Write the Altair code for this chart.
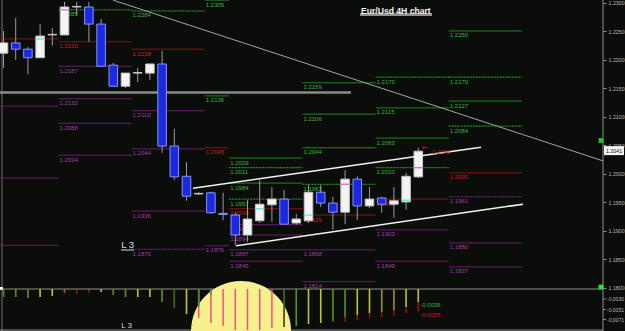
import altair as alt
import pandas as pd

FONT = "Liberation Sans"

# ---------------- candles (4H EUR/USD) ----------------
c_open = [1.2212, 1.2230, 1.2219, 1.2204, 1.2244, 1.2244, 1.2293, 1.2293, 1.2263, 1.2191,
          1.2154, 1.2177, 1.2177, 1.2193, 1.2049, 1.1996, 1.1965, 1.1967, 1.1931, 1.1928,
          1.1893, 1.1918, 1.1946, 1.1956, 1.1914, 1.1918, 1.1968, 1.1949, 1.1933, 1.1991,
          1.1944, 1.1958, 1.1947, 1.1951, 1.1995]
c_high = [1.2251, 1.2274, 1.2223, 1.2263, 1.2256, 1.2302, 1.2302, 1.2302, 1.2272, 1.2195,
          1.2177, 1.2186, 1.2193, 1.2216, 1.2079, 1.2021, 1.1968, 1.1969, 1.1967, 1.1933,
          1.1954, 1.1989, 1.1977, 1.1972, 1.1930, 1.1981, 1.1981, 1.1960, 1.2007, 1.1996,
          1.1977, 1.1960, 1.1977, 1.2002, 1.2046]
c_low = [1.2186, 1.2200, 1.2175, 1.2204, 1.2225, 1.2244, 1.2279, 1.2232, 1.2188, 1.2153,
         1.2151, 1.2161, 1.2165, 1.2037, 1.1989, 1.1953, 1.1963, 1.1930, 1.1919, 1.1875,
         1.1881, 1.1914, 1.1916, 1.1911, 1.1911, 1.1914, 1.1942, 1.1902, 1.1912, 1.1919,
         1.1940, 1.1932, 1.1923, 1.1937, 1.1993]
c_close = [1.2230, 1.2219, 1.2204, 1.2242, 1.2245, 1.2293, 1.2294, 1.2263, 1.2189, 1.2154,
           1.2177, 1.2178, 1.2193, 1.2049, 1.1995, 1.1961, 1.1966, 1.1932, 1.1929, 1.1893,
           1.1921, 1.1947, 1.1956, 1.1912, 1.1921, 1.1968, 1.1949, 1.1933, 1.1991, 1.1944,
           1.1956, 1.1947, 1.1953, 1.1996, 1.2040]

# ---------------- pivot periods ----------------
seg_names = ["A", "B", "C", "D", "E", "F", "G", "H"]
seg_start = [-0.5, 4.5, 10.5, 16.5, 18.5, 24.5, 30.5, 36.5]
seg_end = [4.5, 10.5, 16.5, 18.5, 24.5, 30.5, 36.5, 42.5]

# ---------------- pivot levels ----------------
lv_seg = ["A", "A", "A", "A",
          "B", "B", "B", "B", "B", "B",
          "C", "C", "C", "C", "C", "C",
          "D", "D", "D", "D",
          "E", "E", "E", "E", "E", "E", "E", "E", "E",
          "F", "F", "F", "F", "F", "F", "F",
          "G", "G", "G", "G", "G", "G", "G",
          "H", "H", "H", "H", "H", "H", "H", "H"]
lv_price = [1.2237, 1.2119, 1.1993, 1.1875,
            1.2288, 1.2232, 1.2189, 1.2132, 1.2089, 1.2033,
            1.2286, 1.2219, 1.2111, 1.2044, 1.1935, 1.1868,
            1.2305, 1.2137, 1.2046, 1.1874,
            1.2028, 1.2011, 1.1984, 1.1956, 1.1939, 1.1911, 1.1893, 1.1867, 1.1847,
            1.2160, 1.2105, 1.2046, 1.1982, 1.1928, 1.1867, 1.1811,
            1.2170, 1.2116, 1.2063, 1.2011, 1.1956, 1.1902, 1.1847,
            1.2251, 1.2170, 1.2128, 1.2084, 1.2002, 1.1960, 1.1879, 1.1837]
lv_kind = ["P", "S", "S", "S",
           "R", "P", "S", "S", "S", "S",
           "R", "P", "S", "S", "S", "S",
           "R", "R", "P", "S",
           "R", "R", "R", "R", "P", "S", "S", "S", "S",
           "R", "R", "R", "R", "P", "S", "S",
           "R", "R", "R", "R", "P", "S", "S",
           "R", "R", "R", "R", "P", "S", "S", "S"]
lv_style = ["solid", "solid", "solid", "solid",
            "dot", "solid", "solid", "solid", "solid", "solid",
            "dot", "solid", "solid", "solid", "solid", "dot",
            "solid", "solid", "solid", "solid",
            "solid", "dot", "solid", "dot", "solid", "solid", "solid", "solid", "solid",
            "solid", "solid", "solid", "dot", "solid", "solid", "solid",
            "dot", "solid", "solid", "dot", "solid", "solid", "solid",
            "solid", "dot", "solid", "dot", "solid", "dot", "solid", "solid"]
lv_label = ["", "", "", "",
            "1.2285", "1.2230", "1.2187", "1.2132", "1.2088", "1.2034",
            "1.2284", "1.2218", "1.2110", "1.2044", "1.1936", "1.1870",
            "1.2305", "1.2136", "1.2045", "1.1876",
            "1.2029", "1.2011", "1.1984", "1.1957", "1.1939", "1.1912", "1.1894", "1.1867", "1.1845",
            "1.2159", "1.2106", "1.2044", "1.1983", "1.1929", "1.1868", "1.1814",
            "1.2170", "1.2115", "1.2063", "1.2010", "1.1955", "1.1903", "1.1849",
            "1.2250", "1.2170", "1.2127", "1.2084", "1.2003", "1.1961", "1.1880", "1.1837"]

# level lines showing through white candle bodies (inverted colour)
inv_idx = [3, 5, 21, 25, 28, 33, 34]
inv_price = [1.2237, 1.2288, 1.1939, 1.1928, 1.1982, 1.1954, 1.2011]
inv_kind = ["c", "m", "c", "c", "m", "c", "m"]

# drawn lines: [x0, x1], [p0, p1]
trend_x = [8.98, 49.14]
trend_p = [1.2305, 1.2023]
chan_x0 = [15.53, 19.06]
chan_x1 = [39.14, 42.58]
chan_p0 = [1.1975, 1.1874]
chan_p1 = [1.2047, 1.1947]
hline_x = [-0.3, 28.48]
hline_p = 1.2143
cur_price = 1.2041
high_mark_idx = 34
high_mark_price = 1.2046
l3_idx = 9.65
l3_price = 1.1870

price_ticks = [1.1800, 1.1850, 1.1900, 1.1950, 1.2000, 1.2050,
               1.2100, 1.2150, 1.2200, 1.2250, 1.2300]

# ---------------- oscillator ----------------
osc_main = [-0.0026, -0.0026, -0.0028, -0.0026, -0.0024, -0.0016, -0.0012, -0.0012, -0.0016, -0.0022,
            -0.0026, -0.0026, -0.0026, -0.0036, -0.0048, -0.0060, -0.0046, -0.0022, -0.0010, -0.0010,
            -0.0010, -0.0010, -0.0010, -0.0086, -0.0084, -0.0080, -0.0078, -0.0074, -0.0066, -0.0062,
            -0.0058, -0.0056, -0.0052, -0.0046, -0.0036]
osc_sig = [-0.0026, -0.0026, -0.0028, -0.0026, -0.0024, -0.0020, -0.0020, -0.0018, -0.0016, -0.0022,
           -0.0026, -0.0026, -0.0026, -0.0036, -0.0048, -0.0060, -0.0068, -0.0078, -0.0084, -0.0092,
           -0.0092, -0.0092, -0.0088, -0.0086, -0.0084, -0.0080, -0.0078, -0.0076, -0.0076, -0.0072,
           -0.0068, -0.0066, -0.0064, -0.0058, -0.0055]
osc_main_col = ["g", "g", "g", "l", "l", "g", "g", "g", "l", "g",
                "g", "l", "l", "g", "d", "l", "g", "g", "g", "g",
                "g", "g", "g", "d", "g", "l", "l", "g", "g", "l",
                "l", "o", "o", "l", "l"]
osc_sig_col = ["r"] * 16 + ["p"] * 7 + ["r"] * 12
osc_top = -0.0010
osc_ticks = [-0.0030, -0.0051, -0.0071]
blob_idx = 19.47
blob_val = -0.0094

# ---------------- styling maps ----------------
line_col = {"R": "#1b861b", "P": "#8c1212", "S": "#6a1e6c"}
dot_col = {"R": "#2fae2f", "P": "#a01818", "S": "#82288a"}
lab_col = {"R": "#3ab53a", "P": "#c42222", "S": "#a23ea4"}
inv_col = {"c": "#40e8e8", "m": "#f050d8"}
main_hex = {"g": "#3e9e1e", "l": "#a6d62c", "d": "#2e7414", "o": "#8a9632"}
sig_hex = {"r": "#9c1010", "p": "#f2507e"}

# ---------------- frames ----------------
idx = list(range(len(c_open)))
candles = pd.DataFrame({"i": idx, "o": c_open, "h": c_high, "l": c_low, "c": c_close})

segx0 = dict(zip(seg_names, seg_start))
segx1 = dict(zip(seg_names, seg_end))
lv = pd.DataFrame({"seg": lv_seg, "price": lv_price, "kind": lv_kind,
                   "style": lv_style, "label": lv_label})
lv["x0"] = lv["seg"].map(segx0)
lv["x1"] = lv["seg"].map(segx1)
lv["lc"] = [(dot_col if s == "dot" else line_col)[k] for k, s in zip(lv["kind"], lv["style"])]
lv["tc"] = lv["kind"].map(lab_col)

inv = pd.DataFrame({"i": inv_idx, "p": inv_price, "k": [inv_col[k] for k in inv_kind]})
trend = pd.DataFrame({"x0": [trend_x[0]], "x1": [trend_x[1]], "p0": [trend_p[0]], "p1": [trend_p[1]]})
chan = pd.DataFrame({"x0": chan_x0, "x1": chan_x1, "p0": chan_p0, "p1": chan_p1})
hline = pd.DataFrame({"x0": [hline_x[0]], "x1": [hline_x[1]], "p": [hline_p]})
cur = pd.DataFrame({"p": [cur_price], "t": [f"{cur_price:.4f}"]})
hm = pd.DataFrame({"i": [high_mark_idx], "p": [high_mark_price], "t": [f"{high_mark_price:.4f}"]})
l3 = pd.DataFrame({"i": [l3_idx], "p": [l3_price], "t": ["L 3"]})

osc = pd.DataFrame({"i": idx, "main": osc_main, "sig": osc_sig,
                    "mc": [main_hex[k] for k in osc_main_col],
                    "sc": [sig_hex[k] for k in osc_sig_col]})
osc["top"] = osc_top
osc_last = pd.DataFrame({"i": [idx[-1], idx[-1]], "v": [osc_main[-1], osc_sig[-1]],
                         "t": [f"{osc_main[-1]:.4f}", f"{osc_sig[-1]:.4f}"],
                         "c": ["#3ab53a", "#c42222"]})
osc_tk = pd.DataFrame({"v": osc_ticks, "t": [f"{v:.4f}" for v in osc_ticks]})
blob = pd.DataFrame({"x": [blob_idx], "v": [blob_val]})
one = pd.DataFrame({"a": [0]})

# ---------------- scales ----------------
x_sc = alt.Scale(domain=[-0.287, 49.14], nice=False, zero=False)
p_sc = alt.Scale(domain=[1.172456, 1.230526], nice=False, zero=False)
o_sc = alt.Scale(domain=[-0.0094, 0.0568], nice=False, zero=False)
p_axis = alt.Axis(orient="right", values=price_ticks, format=".4f", labelFontSize=5.3,
                  labelFont=FONT, labelColor="#b9b9b9", tickColor="#8e8e8e", tickSize=3,
                  labelPadding=2, domain=False, grid=False, title=None, labelOverlap=False)


def X(f):
    return alt.X(f, type="quantitative", scale=x_sc, axis=None)


def PY(f):
    return alt.Y(f, type="quantitative", scale=p_sc, axis=p_axis)


def OY(f):
    return alt.Y(f, type="quantitative", scale=o_sc, axis=None)


# ---------------- price panel ----------------
frame = [
    alt.Chart(one).mark_rule(color="#6e6e6e", strokeWidth=1).encode(
        x=alt.value(2), y=alt.value(0), y2=alt.value(331)),
    alt.Chart(one).mark_rule(color="#8e8e8e", strokeWidth=1).encode(
        x=alt.value(603), y=alt.value(0), y2=alt.value(331)),
    alt.Chart(one).mark_rule(color="#8e8e8e", strokeWidth=1).encode(
        x=alt.value(0), x2=alt.value(603), y=alt.value(289)),
    alt.Chart(one).mark_rule(color="#8e8e8e", strokeWidth=1).encode(
        x=alt.value(0), x2=alt.value(603), y=alt.value(330)),
]

lines_solid = alt.Chart(lv).transform_filter("datum.style == 'solid'").mark_rule(strokeWidth=1).encode(
    x=X("x0"), x2=alt.X2("x1"), y=PY("price"), color=alt.Color("lc:N", scale=None))
lines_dot = alt.Chart(lv).transform_filter("datum.style == 'dot'").mark_rule(
    strokeWidth=1, strokeDash=[2, 1]).encode(
    x=X("x0"), x2=alt.X2("x1"), y=PY("price"), color=alt.Color("lc:N", scale=None))
labels = alt.Chart(lv).transform_filter("datum.label != ''").mark_text(
    align="left", baseline="top", dx=1, dy=1.5, fontSize=6, font=FONT).encode(
    x=X("x0"), y=PY("price"), text="label:N", color=alt.Color("tc:N", scale=None))

hl = alt.Chart(hline).mark_rule(color="#8a8a8a", strokeWidth=2.5).encode(
    x=X("x0"), x2=alt.X2("x1"), y=PY("p"))
tr = alt.Chart(trend).mark_rule(color="#a4a4a4", strokeWidth=1).encode(
    x=X("x0"), x2=alt.X2("x1"), y=PY("p0"), y2=alt.Y2("p1"))

wicks = alt.Chart(candles).mark_rule(color="#9a9a9a", strokeWidth=1).encode(
    x=X("i"), y=PY("l"), y2=alt.Y2("h"))
bodies = alt.Chart(candles).transform_calculate(
    xl="datum.i - 0.35", xr="datum.i + 0.35",
    fc="datum.c >= datum.o ? '#f4f4f4' : '#1b2ae2'",
    sc="datum.c >= datum.o ? '#c4c4c4' : '#8a94f4'",
).mark_rect(strokeWidth=1).encode(
    x=X("xl:Q"), x2=alt.X2("xr:Q"), y=PY("o"), y2=alt.Y2("c"),
    color=alt.Color("fc:N", scale=None), stroke=alt.Stroke("sc:N", scale=None))
inv_ticks = alt.Chart(inv).transform_calculate(
    xl="datum.i - 0.33", xr="datum.i + 0.33").mark_rule(strokeWidth=1.2).encode(
    x=X("xl:Q"), x2=alt.X2("xr:Q"), y=PY("p"), color=alt.Color("k:N", scale=None))

ch = alt.Chart(chan).mark_rule(color="#f2f2f2", strokeWidth=1.5).encode(
    x=X("x0"), x2=alt.X2("x1"), y=PY("p0"), y2=alt.Y2("p1"))

hm_arrow = alt.Chart(hm).mark_text(align="left", baseline="middle", dx=4, fontSize=8,
                                   font="DejaVu Sans", color="#c42222").encode(
    x=X("i"), y=PY("p"), text=alt.value("\u2190"))
hm_text = alt.Chart(hm).mark_text(align="left", baseline="top", dx=14, dy=1, fontSize=6,
                                  font=FONT, color="#c42222").encode(
    x=X("i"), y=PY("p"), text="t:N")

l3_text = alt.Chart(l3).mark_text(align="left", baseline="alphabetic", dy=-0.5, fontSize=9.5,
                                  font=FONT, color="#dcdcdc").encode(
    x=X("i"), y=PY("p"), text="t:N")
l3_line = alt.Chart(one).mark_rule(color="#9a9a9a", strokeWidth=1.5).encode(
    x=alt.value(121), x2=alt.value(134), y=alt.value(250))
l3_bottom = alt.Chart(l3).mark_text(align="left", baseline="top", fontSize=8, font=FONT,
                                    color="#dcdcdc").encode(
    x=X("i"), y=alt.value(321.5), text="t:N")

title_bar = alt.Chart(one).mark_rect(color="#8f8f8f").encode(
    x=alt.value(360), x2=alt.value(432), y=alt.value(13), y2=alt.value(16))
title = alt.Chart(one).mark_text(align="left", baseline="alphabetic", fontSize=8.6,
                                 fontWeight="bold", font=FONT, color="#f4f4f4").encode(
    x=alt.value(361), y=alt.value(14), text=alt.value("Eur/Usd 4H chart"))

cur_box = alt.Chart(cur).mark_rect(color="#f4f4f4", yOffset=-4.5, y2Offset=4.5).encode(
    x=alt.value(604), x2=alt.value(624), y=PY("p"), y2=alt.Y2("p"))
cur_txt = alt.Chart(cur).mark_text(align="center", baseline="middle", fontSize=5.3, font=FONT,
                                   color="#111111").encode(
    x=alt.value(614), y=PY("p"), text="t:N")

sq1 = alt.Chart(one).mark_square(size=22, color="#22c822", opacity=1).encode(
    x=alt.value(601), y=alt.value(140.5))
sq2 = alt.Chart(one).mark_square(size=22, color="#22f022", opacity=1).encode(
    x=alt.value(601), y=alt.value(287))
sq3 = alt.Chart(one).mark_square(size=9, color="#f0f0f0", opacity=1).encode(
    x=alt.value(1.5), y=alt.value(288.5))

price_panel = alt.layer(
    *frame, lines_solid, lines_dot, labels, hl, tr, wicks, bodies, inv_ticks, ch,
    hm_arrow, hm_text, l3_line, l3_text, l3_bottom, title_bar, title, cur_box, cur_txt,
    sq1, sq2, sq3)

# ---------------- oscillator panel ----------------
blob_mark = alt.Chart(blob).mark_point(
    shape="M -1 0 A 1 1 0 0 1 1 0 Z", size=10000, filled=True, color="#f7f08c",
    opacity=1, strokeWidth=0).encode(x=X("x"), y=OY("v"))
sig_bars = alt.Chart(osc).mark_rule(strokeWidth=1.5).encode(
    x=X("i"), y=OY("sig"), y2=alt.Y2("top"), color=alt.Color("sc:N", scale=None))
main_bars = alt.Chart(osc).mark_rule(strokeWidth=1.5).encode(
    x=X("i"), y=OY("main"), y2=alt.Y2("top"), color=alt.Color("mc:N", scale=None))
last_lbl = alt.Chart(osc_last).mark_text(align="left", baseline="top", dx=2, fontSize=6,
                                         font=FONT).encode(
    x=X("i"), y=OY("v"), text="t:N", color=alt.Color("c:N", scale=None))
tk_lbl = alt.Chart(osc_tk).mark_text(align="left", baseline="middle", fontSize=5, font=FONT,
                                     color="#b9b9b9").encode(
    x=alt.value(607), y=OY("v"), text="t:N")
tk_rule = alt.Chart(osc_tk).mark_rule(color="#8e8e8e").encode(
    x=alt.value(603), x2=alt.value(606), y=OY("v"))

osc_panel = alt.layer(blob_mark, sig_bars, main_bars, last_lbl, tk_lbl, tk_rule)

chart = alt.layer(price_panel, osc_panel).resolve_scale(y="independent").properties(
    width=603, height=331, background="#0b0d0b",
    padding={"left": 0, "top": 0, "right": 22, "bottom": 0},
    autosize=alt.AutoSizeParams(type="none"),
).configure_view(stroke=None)

chart.save("out.html", embed_options={"renderer": "svg", "actions": False})
